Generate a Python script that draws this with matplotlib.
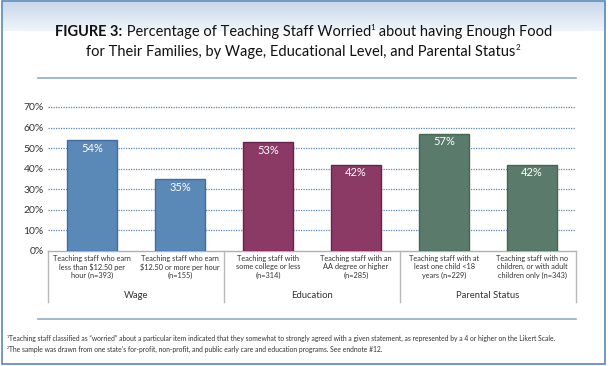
import numpy as np
import matplotlib
matplotlib.use("Agg")
import matplotlib.pyplot as plt
from matplotlib.lines import Line2D
from matplotlib.patches import Rectangle

# ---------------------------------------------------------------------------
# Data
# ---------------------------------------------------------------------------
CATEGORIES = [
    "Teaching staff who earn\nless than $12.50 per\nhour (n=393)",
    "Teaching staff who earn\n$12.50 or more per hour\n(n=155)",
    "Teaching staff with\nsome college or less\n(n=314)",
    "Teaching staff with an\nAA degree or higher\n(n=285)",
    "Teaching staff with at\nleast one child <18\nyears (n=229)",
    "Teaching staff with no\nchildren, or with adult\nchildren only (n=343)",
]
VALUES = [54, 35, 53, 42, 57, 42]
GROUPS = ["Wage", "Education", "Parental Status"]
GROUP_SIZES = [2, 2, 2]
YTICKS = [0, 10, 20, 30, 40, 50, 60, 70]

GROUP_COLORS = ["#5a88b7", "#8b3a66", "#5a7b6b"]
GROUP_EDGES = ["#3e6ea4", "#6f1f4f", "#456656"]

TITLE_1 = [("FIGURE 3:", "bold", False), (" Percentage of Teaching Staff Worried", "normal", False),
           ("1", "normal", True), (" about having Enough Food", "normal", False)]
TITLE_2 = [("for Their Families, by Wage, Educational Level, and Parental Status", "normal", False),
           ("2", "normal", True)]

FOOTNOTE_1 = [("1", "normal", True),
              ("Teaching staff classified as \u201cworried\u201d about a particular item indicated "
               "that they somewhat to strongly agreed with a given statement, as represented by a 4 "
               "or higher on the Likert Scale.", "normal", False)]
FOOTNOTE_2 = [("2", "normal", True),
              ("The sample was drawn from one state\u2019s for-profit, non-profit, and public "
               "early care and education programs. See endnote #12.", "normal", False)]

W, H = 610, 366
FONT = ["Lato", "DejaVu Sans"]
BORDER = "#5b87b5"
TEXT = "#333333"


def X(px):
    return px / W


def Y(py):
    return 1 - py / H


def rich_line(fig, pieces, x_px, y_px, size, ha="center", color="#111111"):
    """Draw text pieces side by side; superscripts are smaller and raised."""
    renderer = fig.canvas.get_renderer()
    arts = []
    for txt, weight, sup in pieces:
        fs = size * 0.55 if sup else size
        t = fig.text(0, 0, txt, fontsize=fs, fontweight=weight, color=color,
                     ha="left", va="baseline")
        arts.append((t, sup))
    widths = [t.get_window_extent(renderer).width for t, _ in arts]
    total = sum(widths)
    start = x_px - total / 2 if ha == "center" else x_px
    cur = start
    for (t, sup), w in zip(arts, widths):
        dy = size * 0.42 * 100 / 72 if sup else 0
        t.set_position((X(cur), Y(y_px - dy)))
        cur += w


plt.rcParams["font.family"] = FONT

fig = plt.figure(figsize=(W / 100, H / 100), dpi=100)
fig.patch.set_facecolor("white")

# header gradient band
grad_ax = fig.add_axes([X(3), Y(31), X(603), (31 - 2) / H])
grad = np.linspace(0, 1, 64).reshape(-1, 1)
top = np.array([0.79, 0.85, 0.92])
bot = np.array([0.94, 0.96, 0.98])
img = top + (bot - top) * grad[:, :, None]
grad_ax.imshow(img, aspect="auto", extent=[0, 1, 0, 1])
grad_ax.set_axis_off()

# outer frame
fig.add_artist(Rectangle((X(2), Y(364)), X(605) - X(2), Y(1) - Y(364),
                         transform=fig.transFigure, fill=False,
                         edgecolor=BORDER, linewidth=1.2))

# title
rich_line(fig, TITLE_1, 304, 36, 10.5)
rich_line(fig, TITLE_2, 303, 56, 10.5)

# separator rules
for yy in (78, 319):
    fig.add_artist(Line2D([X(38), X(576)], [Y(yy), Y(yy)], transform=fig.transFigure,
                          color="#8fabc9", linewidth=1.2))

# ---------------------------------------------------------------------------
# Bars
# ---------------------------------------------------------------------------
ax = fig.add_axes([X(48), Y(251), X(576) - X(48), 72 * (144 / 70) / H])
x = np.arange(len(VALUES))
colors, edges = [], []
for g, n in enumerate(GROUP_SIZES):
    colors += [GROUP_COLORS[g]] * n
    edges += [GROUP_EDGES[g]] * n

ax.bar(x, VALUES, width=0.57, color=colors, edgecolor=edges, linewidth=1.0, zorder=3)
for xi, v in zip(x, VALUES):
    ax.text(xi, v - 1.3, f"{v}%", ha="center", va="top", color="white",
            fontsize=8, zorder=4)

ax.set_xlim(-0.5, len(VALUES) - 0.5)
ax.set_ylim(0, 72)
ax.set_yticks(YTICKS)
ax.set_yticklabels([f"{t}%" for t in YTICKS], fontsize=7.5, color=TEXT)
ax.tick_params(axis="y", length=0, pad=3)
ax.set_xticks([])
for t in YTICKS[1:]:
    ax.axhline(t, color=BORDER, linestyle=(0, (1, 1)), linewidth=0.9, zorder=1)
for s in ("top", "right", "left"):
    ax.spines[s].set_visible(False)
ax.spines["bottom"].set_color("#b0b0b0")
ax.spines["bottom"].set_linewidth(1.0)
ax.set_facecolor("none")

# category labels
cat_w = (576 - 48) / len(CATEGORIES)
for i, lab in enumerate(CATEGORIES):
    fig.text(X(48 + cat_w * (i + 0.5)), Y(255), lab, fontsize=5.3, color=TEXT,
             ha="center", va="top", linespacing=1.2)

# group separators and labels
edge_px = 48
fig.add_artist(Line2D([X(edge_px)] * 2, [Y(251), Y(302)], transform=fig.transFigure,
                      color="#b8b8b8", linewidth=1.0))
for g, n in zip(GROUPS, GROUP_SIZES):
    start = edge_px
    edge_px += cat_w * n
    fig.add_artist(Line2D([X(edge_px)] * 2, [Y(251), Y(302)], transform=fig.transFigure,
                          color="#b8b8b8", linewidth=1.0))
    fig.text(X((start + edge_px) / 2), Y(296), g, fontsize=6.8, color=TEXT,
             ha="center", va="center")

# footnotes
rich_line(fig, FOOTNOTE_1, 7, 341, 4.9, ha="left", color=TEXT)
rich_line(fig, FOOTNOTE_2, 7, 352, 4.9, ha="left", color=TEXT)

fig.savefig("out.png", dpi=100)
